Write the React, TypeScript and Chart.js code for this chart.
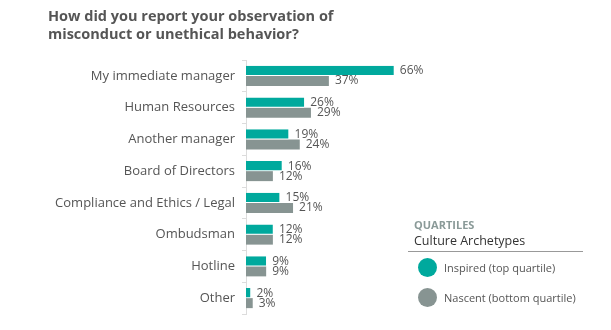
import React, { useEffect, useRef } from "react";
import { Chart, registerables } from "chart.js";

Chart.register(...registerables);

const categories = [
  "My immediate manager",
  "Human Resources",
  "Another manager",
  "Board of Directors",
  "Compliance and Ethics / Legal",
  "Ombudsman",
  "Hotline",
  "Other",
];
const inspired = [66, 26, 19, 16, 15, 12, 9, 2];
const nascent = [37, 29, 24, 12, 21, 12, 9, 3];
const seriesNames = ["Inspired (top quartile)", "Nascent (bottom quartile)"];
const TEAL = "#00A99D";
const GREY = "#879492";
const FONT = "'Open Sans', sans-serif";

const valueLabels = {
  id: "valueLabels",
  afterDatasetsDraw(chart: any) {
    const ctx = chart.ctx;
    ctx.save();
    ctx.font = `12px ${FONT}`;
    ctx.fillStyle = "#555";
    ctx.textBaseline = "middle";
    ctx.textAlign = "left";
    chart.data.datasets.forEach((ds: any, di: number) => {
      const meta = chart.getDatasetMeta(di);
      meta.data.forEach((el: any, i: number) => {
        ctx.fillText(ds.data[i] + "%", el.x + 6, el.y);
      });
    });
    ctx.restore();
  },
};

export default function App() {
  const ref = useRef<HTMLCanvasElement>(null);
  useEffect(() => {
    document.body.style.margin = "0";
    const chart = new Chart(ref.current!, {
      type: "bar",
      data: {
        labels: categories,
        datasets: [
          { label: seriesNames[0], data: inspired, backgroundColor: TEAL, borderColor: "#fff", borderWidth: { bottom: 1 } as any, barPercentage: 1, categoryPercentage: 0.63 },
          { label: seriesNames[1], data: nascent, backgroundColor: GREY, borderWidth: 0, barPercentage: 1, categoryPercentage: 0.63 },
        ],
      },
      options: {
        indexAxis: "y",
        animation: false,
        responsive: false,
        layout: { padding: { top: 60, bottom: 16, left: 0, right: 141 } },
        plugins: { legend: { display: false }, tooltip: { enabled: false }, title: { display: false } },
        scales: {
          x: { display: false, min: 0, max: 100 },
          y: {
            afterFit: (s: any) => { s.width = 246; },
            grid: { offset: true, drawOnChartArea: false, tickLength: 4, color: "#dcdcdc" },
            border: { display: true, color: "#dcdcdc" },
            ticks: { font: { family: FONT, size: 13 }, color: "#555", padding: 7 },
          },
        },
      },
      plugins: [valueLabels],
    });
    return () => chart.destroy();
  }, []);

  return (
    <div style={{ position: "relative", width: 611, height: 330, fontFamily: FONT }}>
      <canvas ref={ref} width={611} height={330} style={{ position: "absolute", left: 0, top: 0 }} />
      <div style={{ position: "absolute", left: 48, top: 7, fontSize: 14.5, fontWeight: 700, color: "#555", lineHeight: "18px" }}>
        How did you report your observation of<br />misconduct or unethical behavior?
      </div>
      <div style={{ position: "absolute", left: 414, top: 217, fontSize: 11, fontWeight: 700, color: "#8A9A98" }}>QUARTILES</div>
      <div style={{ position: "absolute", left: 414, top: 232, fontSize: 12.5, color: "#333" }}>Culture Archetypes</div>
      <div style={{ position: "absolute", left: 408, top: 251, width: 175, height: 1, background: "#999" }} />
      {seriesNames.map((n, i) => (
        <div key={n} style={{ position: "absolute", left: 418, top: 258 + i * 30, display: "flex", alignItems: "center" }}>
          <div style={{ width: 19, height: 19, borderRadius: "50%", background: i === 0 ? TEAL : GREY }} />
          <div style={{ marginLeft: 7, fontSize: 11, color: "#555" }}>{n}</div>
        </div>
      ))}
    </div>
  );
}
